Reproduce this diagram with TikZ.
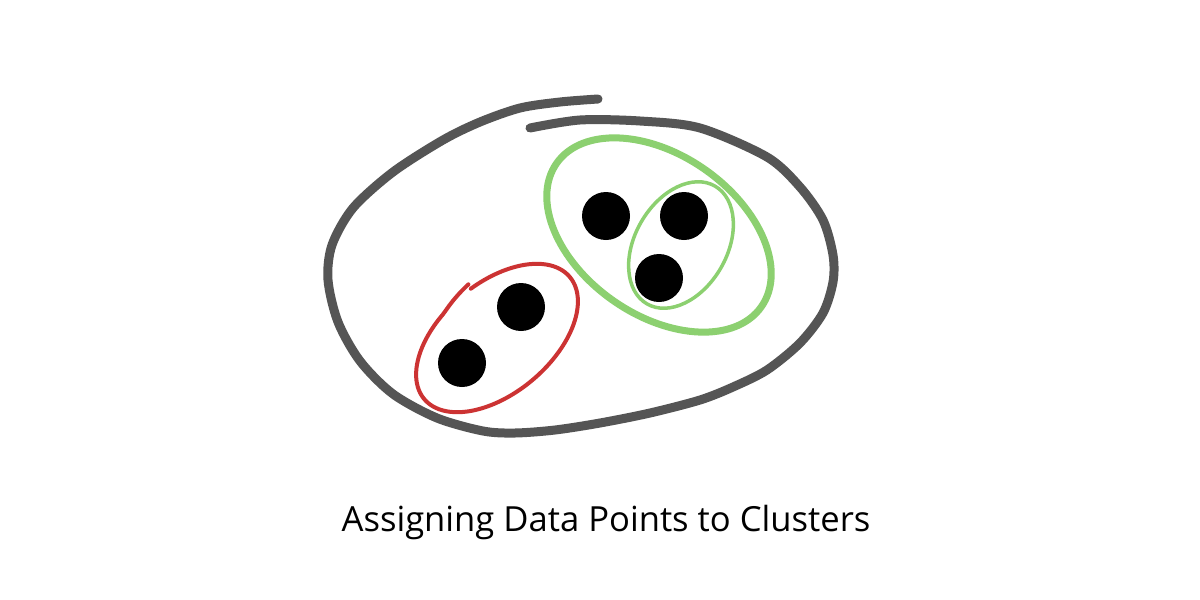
\documentclass[tikz,border=0pt]{standalone}
\usepackage{fontspec}
\setmainfont{Open Sans}
\definecolor{outergray}{HTML}{555555}
\definecolor{redc}{HTML}{CC3333}
\definecolor{greenc}{HTML}{8CD070}
\begin{document}
\begin{tikzpicture}[x=1pt,y=-1pt,
  dot/.style={circle,fill=black,minimum size=48pt,inner sep=0pt},
  grayline/.style={draw=outergray,line width=9pt,line cap=round,line join=round},
  redline/.style={draw=redc,line width=4pt,line cap=round},
  greenthick/.style={draw=greenc,line width=7pt},
  greenthin/.style={draw=greenc,line width=3.5pt}]
\useasboundingbox (0,0) rectangle (1200,600);
\fill[white] (0,0) rectangle (1200,600);
% outer hand-drawn ellipse
\draw[grayline] plot[smooth] coordinates {
(530,128) (580,120) (640,121) (700,128) (767,157) (800,187) (823,220)
(833,255) (833,282) (823,313) (800,343) (767,370) (733,387) (700,400)
(650,413) (600,423) (555,430) (515,433) (483,431) (437,418) (393,394)
(360,361) (338,322) (328,280) (332,245) (353,208) (393,172) (443,140)
(480,122) (520,108) (560,102) (598,99)};
% red cluster
\draw[redline] plot[smooth,domain=277:637,samples=110]
 ({497 + (1+0.09*max(0,(\x-615)/22))*(95*cos(\x)*0.766 + 55*sin(\x)*0.643)},
  {338 + (1+0.09*max(0,(\x-615)/22))*(-95*cos(\x)*0.643 + 55*sin(\x)*0.766)});
% green clusters
\draw[greenthick,rotate around={-35:(659,235)}] (659,235) ellipse [x radius=125pt, y radius=80pt];
\draw[greenthin,rotate around={60:(681,245)}] (681,245) ellipse [x radius=68pt, y radius=46pt];
% points
\node[dot] (r1) at (462,363) {};
\node[dot] (r2) at (521,307) {};
\node[dot] (g1) at (606,216) {};
\node[dot] (g2) at (684,216) {};
\node[dot] (g3) at (659,278) {};
% caption
\node[font=\fontsize{34.6}{40}\selectfont,anchor=base,inner sep=0pt] (title) at (606,531) {Assigning Data Points to Clusters};
\end{tikzpicture}
\end{document}
